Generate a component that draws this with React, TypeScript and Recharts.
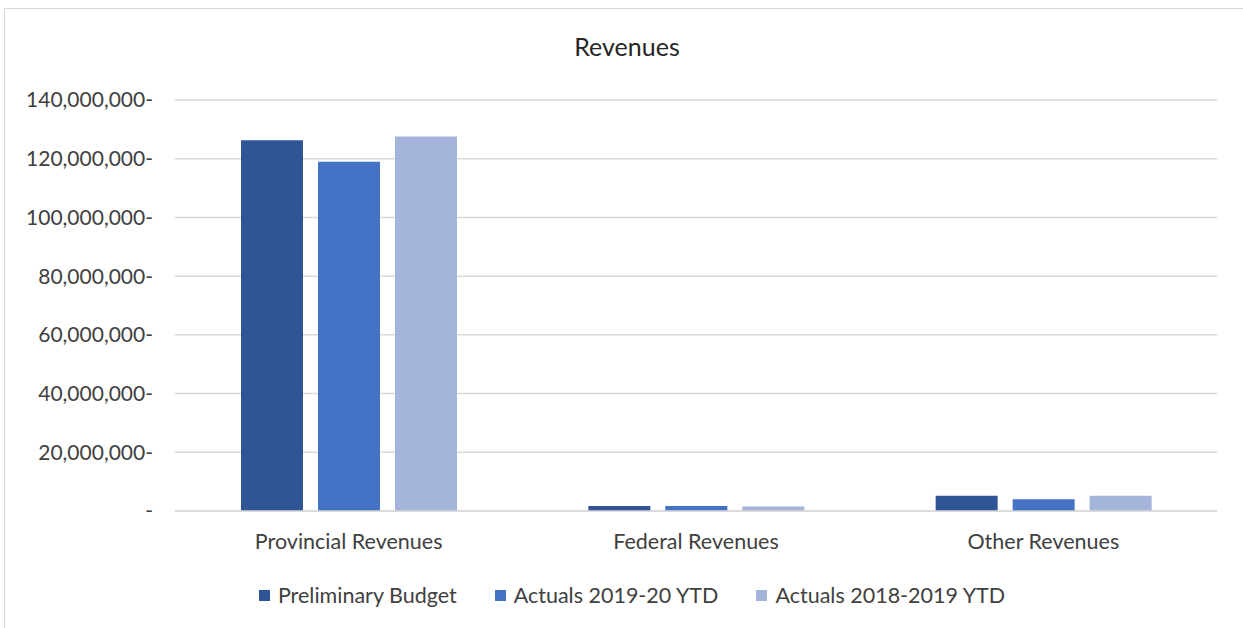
import React from "react";
import { Bar, BarChart, CartesianGrid, XAxis, YAxis } from "recharts";

const categories = ["Provincial Revenues", "Federal Revenues", "Other Revenues"];
const preliminaryBudget = [126300000, 1700000, 5200000];
const actuals2019 = [119000000, 1700000, 4000000];
const actuals2018 = [127600000, 1500000, 5200000];
const yTicks = [0, 20000000, 40000000, 60000000, 80000000, 100000000, 120000000, 140000000];

const SERIES = [
  { key: "pb", name: "Preliminary Budget", color: "#2F5597" },
  { key: "a2019", name: "Actuals 2019-20 YTD", color: "#4472C4" },
  { key: "a2018", name: "Actuals 2018-2019 YTD", color: "#A5B4DB" },
];

const data = categories.map((name, i) => ({
  name,
  pb: preliminaryBudget[i],
  a2019: actuals2019[i],
  a2018: actuals2018[i],
}));

const FONT = "Lato, 'Open Sans', sans-serif";

const formatTick = (v: number) => (v === 0 ? "-" : v.toLocaleString("en-US") + "-");

export default function App() {
  return (
    <div style={{ position: "fixed", left: 0, top: 0, width: 1243, height: 628, background: "#fff", overflow: "hidden" }}>
      {/* light frame round the chart, as in the screenshot */}
      <div style={{ position: "absolute", left: 4, top: 8, width: 1300, height: 700, border: "1.5px solid #D9D9D9" }} />
      <div
        style={{
          position: "absolute",
          top: 31,
          width: 1254,
          textAlign: "center",
          fontFamily: FONT,
          fontSize: 25,
          color: "#262626",
        }}
      >
        Revenues
      </div>
      <div style={{ position: "absolute", left: 0, top: 0 }}>
        <BarChart
          width={1243}
          height={628}
          data={data}
          margin={{ top: 100, right: 26, bottom: 0, left: 0 }}
          barCategoryGap="19%"
          barGap={15}
        >
          <CartesianGrid vertical={false} stroke="#D9D9D9" strokeWidth={1.5} />
          <XAxis
            dataKey="name"
            height={117}
            tickLine={false}
            axisLine={{ stroke: "#D9D9D9", strokeWidth: 1.5 }}
            tickMargin={17}
            tick={{ fontFamily: FONT, fontSize: 21.5, fill: "#404040" }}
          />
          <YAxis
            width={175}
            domain={[0, 140000000]}
            ticks={yTicks}
            tickFormatter={formatTick}
            axisLine={false}
            tickLine={false}
            tickSize={0}
            tickMargin={22}
            tick={{ fontFamily: FONT, fontSize: 21, fill: "#404040" }}
          />
          {SERIES.map((s) => (
            <Bar key={s.key} dataKey={s.key} name={s.name} fill={s.color} isAnimationActive={false} />
          ))}
        </BarChart>
      </div>
      <div
        style={{
          position: "absolute",
          top: 582,
          left: 0,
          width: 1264,
          display: "flex",
          justifyContent: "center",
          gap: 38,
          fontFamily: FONT,
          fontSize: 21.5,
          color: "#404040",
        }}
      >
        {SERIES.map((s) => (
          <div key={s.key} style={{ display: "flex", alignItems: "center", gap: 8 }}>
            <span style={{ width: 11, height: 11, backgroundColor: s.color, display: "inline-block" }} />
            <span>{s.name}</span>
          </div>
        ))}
      </div>
    </div>
  );
}
